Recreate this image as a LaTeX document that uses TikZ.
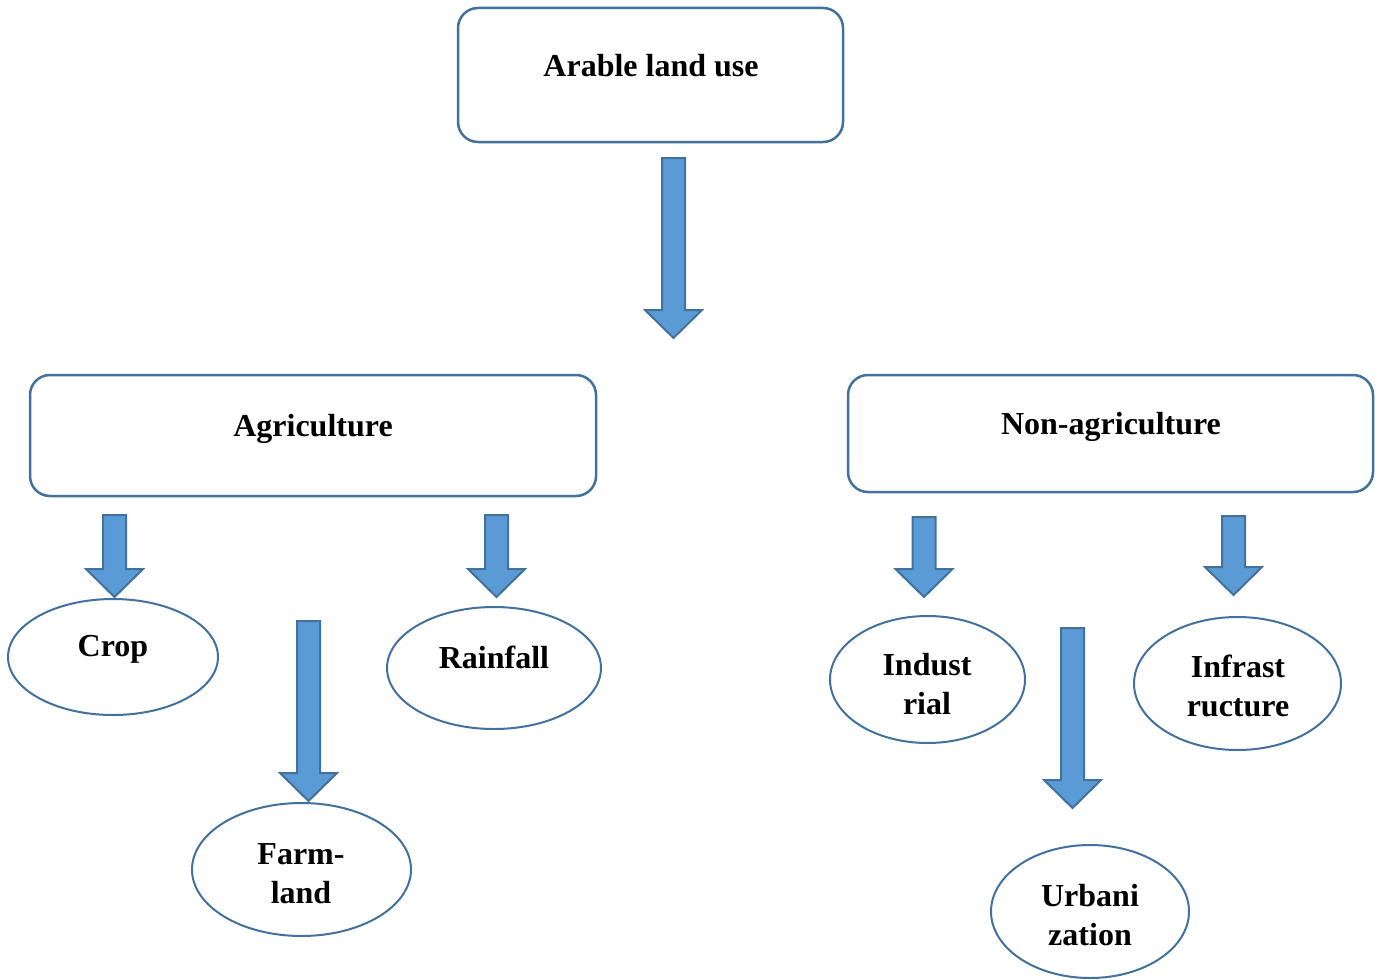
\documentclass[tikz,border=0pt]{standalone}
\usepackage{fontspec}
\setmainfont{Liberation Serif}
\usetikzlibrary{shapes.geometric}

\definecolor{edgeblue}{HTML}{41719C}
\definecolor{fillblue}{HTML}{5B9BD5}

\tikzset{
  box/.style={draw=edgeblue, line width=2.5pt, rounded corners=20pt, fill=white},
  oval/.style={draw=edgeblue, line width=2pt, ellipse, inner sep=0pt, fill=white},
  lbl/.style={font=\fontsize{32}{39}\selectfont\bfseries, align=center, inner sep=0pt},
  blk/.style={draw=edgeblue, line width=2pt, fill=fillblue, line join=miter}
}

% block arrow: centre x, top of shaft, tip
\newcommand{\blockarrow}[3]{%
  \draw[blk] (#1-11.5,#2) -- (#1+11.5,#2) -- (#1+11.5,#3-28) -- (#1+28.5,#3-28)
    -- (#1,#3) -- (#1-28.5,#3-28) -- (#1-11.5,#3-28) -- cycle;}

\begin{document}
\begin{tikzpicture}[x=1pt, y=-1pt]
    \useasboundingbox (0,0) rectangle (1380,979);

    % Cajas
    \node[box, minimum width=385, minimum height=134] (arable) at (650.5,75) {};
    \node[lbl] (arable-t) at (651,66) {Arable land use};
    \node[box, minimum width=566, minimum height=121] (agri) at (313,435.5) {};
    \node[lbl] (agri-t) at (313,429) {Agriculture};
    \node[box, minimum width=525, minimum height=117] (nonagri) at (1110.5,433.5) {};
    \node[lbl] (nonagri-t) at (1111,427) {Non-agriculture};

    % Elipses
    \node[oval, minimum width=210, minimum height=116] (crop) at (113,657) {};
    \node[lbl] (crop-t) at (113,649) {Crop};
    \node[oval, minimum width=214, minimum height=122] (rain) at (494,668) {};
    \node[lbl] (rain-t) at (494,657) {Rainfall};
    \node[oval, minimum width=219, minimum height=133] (farm) at (301.5,869.5) {};
    \node[lbl] (farm-t) at (301,873.5) {Farm-\\land};
    \node[oval, minimum width=195, minimum height=127] (indus) at (927.5,679.5) {};
    \node[lbl] (indus-t) at (927,684.5) {Indust\\rial};
    \node[oval, minimum width=207, minimum height=133] (infra) at (1237.5,683.5) {};
    \node[lbl] (infra-t) at (1238,685.5) {Infrast\\ructure};
    \node[oval, minimum width=198, minimum height=133] (urban) at (1090,911.5) {};
    \node[lbl] (urban-t) at (1090,915) {Urbani\\zation};

    % Flechas
    \blockarrow{673.5}{158}{338}
    \blockarrow{114.5}{515}{597}
    \blockarrow{496.5}{515}{597}
    \blockarrow{308.5}{621}{801}
    \blockarrow{924}{517}{597}
    \blockarrow{1233.5}{516}{595}
    \blockarrow{1072.5}{628}{808}
\end{tikzpicture}
\end{document}
